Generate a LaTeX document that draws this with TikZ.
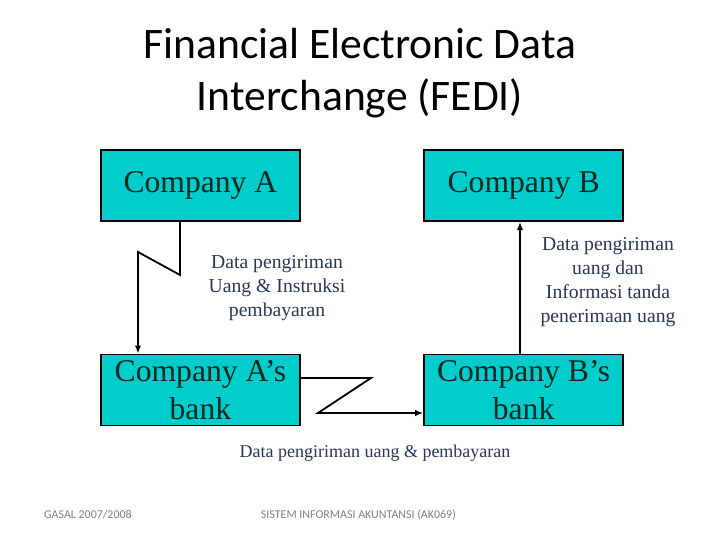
\documentclass[tikz,border=0pt]{standalone}
\usepackage{fontspec}
\setmainfont{Liberation Serif}
\newfontfamily\titlefont{Carlito}
\usetikzlibrary{arrows.meta}
\definecolor{boxfill}{RGB}{0,204,204}
\definecolor{boxtext}{RGB}{0,40,30}
\definecolor{labeltext}{RGB}{40,55,85}
\definecolor{foottext}{RGB}{128,128,128}
\tikzset{
  company/.style={draw=black, line width=1.3pt, fill=boxfill, text=boxtext,
    minimum width=4.975cm, minimum height=1.775cm, align=center,
    font=\fontsize{22.5}{27}\selectfont, inner sep=0pt},
  infotext/.style={text=labeltext, align=center, font=\fontsize{14}{17}\selectfont},
  footnote/.style={text=foottext, anchor=west, font=\titlefont\fontsize{8.5}{10}\selectfont},
  flow/.style={line width=1.3pt, -{Latex[length=2mm,width=1.6mm]}}
}
\begin{document}
\begin{tikzpicture}[line join=miter]
    \useasboundingbox (0,0) rectangle (18,13.5);
    % title
    \node[align=center, font=\titlefont\fontsize{31}{37}\selectfont] (title) at (9,11.68)
      {Financial Electronic Data\\Interchange (FEDI)};
    % the four parties
    \node[company] (compA) at (5.01,8.86) {Company A};
    \node[company] (compB) at (13.09,8.86) {Company B};
    \node[company] (bankA) at (5.01,3.75) {Company A’s\\bank};
    \node[company] (bankB) at (13.09,3.75) {Company B’s\\bank};
    % bends of the lightning lines
    \path
    (4.5,6.625) coordinate (a1)
    (3.45,7.2) coordinate (a2)
    (9.275,4.05) coordinate (h1)
    (7.95,3.175) coordinate (h2);
    \draw[flow] (compA.south -| a1)--(a1)--(a2)--(a2 |- bankA.north);
    \draw[flow] (bankA.east |- h1)--(h1)--(h2)--(h2 -| bankB.west);
    \draw[flow] (bankB.north -| 13,0)--(compB.south -| 13,0);
    % labels of the flows
    \node[infotext] (lblA) at (6.925,6.3) {Data pengiriman\\Uang \& Instruksi\\pembayaran};
    \node[infotext] (lblB) at (15.2,6.45) {Data pengiriman\\uang dan\\Informasi tanda\\penerimaan uang};
    \node[infotext, font=\fontsize{12.8}{15}\selectfont] (lblbank) at (9.375,2.17) {Data pengiriman uang \& pembayaran};
    % footer
    \node[footnote] (semester) at (0.98,0.625) {GASAL 2007/2008};
    \node[footnote] (course) at (6.4,0.625) {SISTEM INFORMASI AKUNTANSI (AK069)};
\end{tikzpicture}
\end{document}
